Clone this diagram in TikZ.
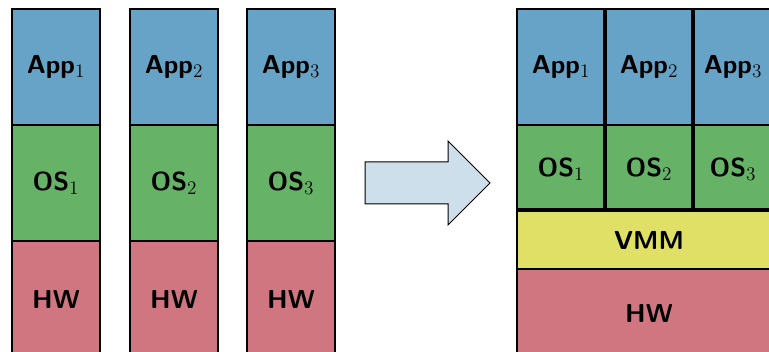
\documentclass[tikz,border=0pt]{standalone}
\usepackage{tikz}

\definecolor{appblue}{RGB}{102,163,198}
\definecolor{osgreen}{RGB}{102,178,102}
\definecolor{hwred}{RGB}{208,118,128}
\definecolor{vmmyellow}{RGB}{224,224,102}
\definecolor{arrowfill}{RGB}{204,223,234}

\tikzset{every picture/.style={line width=0.75pt}}
\tikzset{
  appbox/.style={fill=appblue, draw=black, line width=1.5pt},
  osbox/.style={fill=osgreen, draw=black, line width=1.5pt},
  hwbox/.style={fill=hwred, draw=black, line width=1.5pt},
  vmmbox/.style={fill=vmmyellow, draw=black, line width=1.5pt},
  divider/.style={draw=black, line width=3pt},
  label/.style={font=\fontsize{19.5}{23}\selectfont\sffamily\bfseries},
}

\begin{document}
\begin{tikzpicture}[x=0.75pt,y=0.75pt,yscale=-1,xscale=1]
	%set diagram area 769 x 352
	\clip (0,0) rectangle (769,352);
	
	%Shape: Rectangle [left stack 1]
	\draw [appbox] (12,9) -- (100,9) -- (100,125) -- (12,125) -- cycle ;
	\draw [osbox] (12,125) -- (100,125) -- (100,241) -- (12,241) -- cycle ;
	\draw [hwbox] (12,241) -- (100,241) -- (100,357) -- (12,357) -- cycle ;
	%Shape: Rectangle [left stack 2]
	\draw [appbox] (130,9) -- (218,9) -- (218,125) -- (130,125) -- cycle ;
	\draw [osbox] (130,125) -- (218,125) -- (218,241) -- (130,241) -- cycle ;
	\draw [hwbox] (130,241) -- (218,241) -- (218,357) -- (130,357) -- cycle ;
	%Shape: Rectangle [left stack 3]
	\draw [appbox] (247,9) -- (335,9) -- (335,125) -- (247,125) -- cycle ;
	\draw [osbox] (247,125) -- (335,125) -- (335,241) -- (247,241) -- cycle ;
	\draw [hwbox] (247,241) -- (335,241) -- (335,357) -- (247,357) -- cycle ;
	
	%Shape: Right Arrow
	\draw [fill=arrowfill] (365,162) -- (448,162) -- (448,141) -- (490,183) -- (448,225) -- (448,204) -- (365,204) -- cycle ;
	
	%Shape: Rectangle [virtualised stack]
	\draw [appbox] (517,9) -- (605,9) -- (605,125) -- (517,125) -- cycle ;
	\draw [appbox] (605,9) -- (693,9) -- (693,125) -- (605,125) -- cycle ;
	\draw [appbox] (693,9) -- (781,9) -- (781,125) -- (693,125) -- cycle ;
	\draw [osbox] (517,125) -- (605,125) -- (605,210) -- (517,210) -- cycle ;
	\draw [osbox] (605,125) -- (693,125) -- (693,210) -- (605,210) -- cycle ;
	\draw [osbox] (693,125) -- (781,125) -- (781,210) -- (693,210) -- cycle ;
	\draw [vmmbox] (517,210) -- (781,210) -- (781,269) -- (517,269) -- cycle ;
	\draw [hwbox] (517,269) -- (781,269) -- (781,357) -- (517,357) -- cycle ;
	%Straight Lines [thick dividers]
	\draw [divider] (605,9) -- (605,210) ;
	\draw [divider] (693,9) -- (693,210) ;
	\draw [divider] (517,210) -- (781,210) ;
	
	% Text Node
	\draw (56,67) node [label] (app1) {App$_1$};
	% Text Node
	\draw (174,67) node [label] (app2) {App$_2$};
	% Text Node
	\draw (291,67) node [label] (app3) {App$_3$};
	% Text Node
	\draw (56,183) node [label] (os1) {OS$_1$};
	% Text Node
	\draw (174,183) node [label] (os2) {OS$_2$};
	% Text Node
	\draw (291,183) node [label] (os3) {OS$_3$};
	% Text Node
	\draw (56,299) node [label] (hw1) {HW};
	% Text Node
	\draw (174,299) node [label] (hw2) {HW};
	% Text Node
	\draw (291,299) node [label] (hw3) {HW};
	% Text Node
	\draw (561,67) node [label] (vapp1) {App$_1$};
	% Text Node
	\draw (649,67) node [label] (vapp2) {App$_2$};
	% Text Node
	\draw (733,67) node [label] (vapp3) {App$_3$};
	% Text Node
	\draw (561,169) node [label] (vos1) {OS$_1$};
	% Text Node
	\draw (649,169) node [label] (vos2) {OS$_2$};
	% Text Node
	\draw (733,169) node [label] (vos3) {OS$_3$};
	% Text Node
	\draw (649,240) node [label] (vmm) {VMM};
	% Text Node
	\draw (649,313) node [label] (vhw) {HW};
	
\end{tikzpicture}
\end{document}
